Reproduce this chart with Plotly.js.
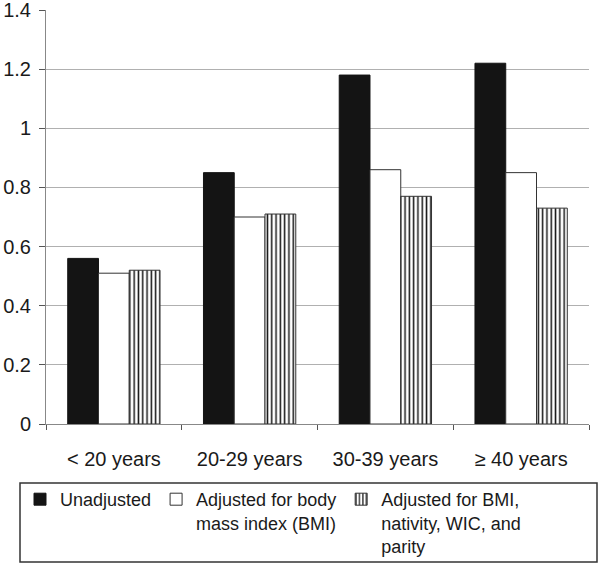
<!DOCTYPE html>
<html>
<head>
<meta charset="utf-8">
<script src="https://cdn.plot.ly/plotly-3.0.1.min.js"></script>
<style>html,body{margin:0;padding:0;background:#fff;}#chart{width:600px;height:563px;}</style>
</head>
<body>
<div id="chart"></div>
<script>
var categories = ["< 20 years", "20-29 years", "30-39 years", "\u2265 40 years"];
var seriesNames = ["Unadjusted", "Adjusted for body<br>mass index (BMI)", "Adjusted for BMI,<br>nativity, WIC, and<br>parity"];
var unadjusted = [0.56, 0.85, 1.18, 1.22];
var adjustedBMI = [0.51, 0.70, 0.86, 0.85];
var adjustedAll = [0.52, 0.71, 0.77, 0.73];
var yTicks = [0, 0.2, 0.4, 0.6, 0.8, 1, 1.2, 1.4];

var font = "Liberation Sans, Arial, Helvetica, sans-serif";

var traces = [
  {type: "bar", x: categories, y: unadjusted, name: seriesNames[0],
   marker: {color: "#141414", line: {color: "#141414", width: 1}}},
  {type: "bar", x: categories, y: adjustedBMI, name: seriesNames[1],
   marker: {color: "#ffffff", line: {color: "#333333", width: 1}}},
  {type: "bar", x: categories, y: adjustedAll, name: seriesNames[2],
   marker: {color: "#ffffff", line: {color: "#333333", width: 1},
            pattern: {shape: "|", fgcolor: "#141414", bgcolor: "#ffffff", size: 4.3, solidity: 0.35}}}
];

var layout = {
  width: 600, height: 563,
  margin: {l: 46, r: 11, t: 10, b: 139},
  paper_bgcolor: "#ffffff", plot_bgcolor: "#ffffff",
  font: {family: font, color: "#1a1a1a", size: 18},
  barmode: "group", bargap: 0.32, bargroupgap: 0,
  showlegend: true,
  xaxis: {
    type: "category",
    showline: true, linecolor: "#888888", linewidth: 1,
    ticks: "outside", tickson: "boundaries", ticklen: 5, tickcolor: "#555555",
    tickfont: {size: 20, family: font, color: "#1a1a1a"},
    ticklabelstandoff: 17,
    showgrid: false, zeroline: false
  },
  yaxis: {
    range: [0, 1.4], tickvals: yTicks, ticktext: yTicks.map(String),
    showline: true, linecolor: "#888888", linewidth: 1,
    ticks: "outside", ticklen: 6, tickcolor: "#555555",
    tickfont: {size: 20, family: font, color: "#1a1a1a"},
    ticklabelstandoff: 4, ticklabeloverflow: "allow",
    showgrid: true, gridcolor: "#b0b0b0", gridwidth: 1, zeroline: false
  },
  legend: {
    orientation: "h", xref: "container", yref: "container",
    x: 20/600, y: 1 - 481/563, xanchor: "left", yanchor: "top",
    valign: "top", borderwidth: 0, bgcolor: "rgba(0,0,0,0)",
    font: {size: 18, family: font, color: "#1a1a1a"},
    traceorder: "normal", itemwidth: 30
  },
  shapes: [{
    type: "rect", xref: "paper", yref: "paper",
    x0: -26/543, x1: 551/543, y0: -138/414, y1: -59/414,
    line: {color: "#333333", width: 1.5}, fillcolor: "rgba(0,0,0,0)"
  }]
};

Plotly.newPlot("chart", traces, layout, {displayModeBar: false, staticPlot: true});
</script>
</body>
</html>
